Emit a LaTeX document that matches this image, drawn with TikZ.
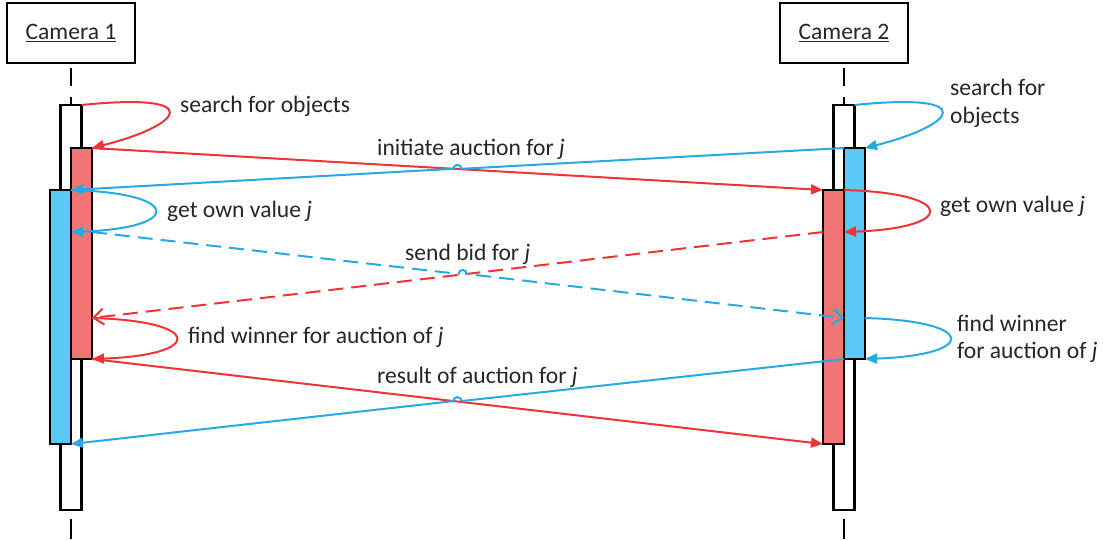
\documentclass[tikz,border=0pt]{standalone}
\usepackage{fontspec}
\setmainfont{Carlito}
\usetikzlibrary{arrows.meta,calc,intersections}

\definecolor{redline}{HTML}{EE3437}
\definecolor{redfill}{HTML}{F17575}
\definecolor{blueline}{HTML}{27AAE1}
\definecolor{bluefill}{HTML}{5BC9F5}
\definecolor{txt}{HTML}{262626}

\tikzset{
  camera/.style={draw=black, line width=2.3pt, minimum width=128pt, minimum height=60pt,
    inner sep=0pt, outer sep=0pt, font=\fontsize{23.6pt}{28pt}\selectfont, text=txt},
  bar/.style={draw=black, line width=2.3pt, minimum width=21pt, inner sep=0pt, outer sep=0pt},
  lifeline/.style={draw=black, line width=2.3pt},
  lbl/.style={font=\fontsize{23.6pt}{28pt}\selectfont, text=txt, inner sep=0pt, align=left},
  redmsg/.style={draw=redline, line width=2pt},
  bluemsg/.style={draw=blueline, line width=2pt},
  filltip/.style={-{Triangle[length=12pt,width=10pt]}},
  opentip/.style={-{Straight Barb[length=10pt,width=16pt,line width=2pt]}},
  dashmsg/.style={dash pattern=on 15pt off 8pt},
}

\begin{document}
\begin{tikzpicture}[x=1pt,y=-1pt]
\useasboundingbox (0,0) rectangle (1108,539);

% participants
\node[camera] (cam1) at (71,33) {\underline{Camera 1}};
\node[camera] (cam2) at (844,33) {\underline{Camera 2}};

% lifelines (dashed stubs above and below the activation bars)
\coordinate (l1top) at (71,68);
\coordinate (l2top) at (844,68);
\coordinate (l1bot) at (71,539);
\coordinate (l2bot) at (844,539);

% white activation bars
\node[bar, fill=white, minimum height=405pt] (L0) at (71,307.5) {};
\node[bar, fill=white, minimum height=405pt] (R0) at (844,307.5) {};

\draw[lifeline, dash pattern=on 18pt off 11pt] (l1top) -- (L0.north);
\draw[lifeline, dash pattern=on 18pt off 11pt] (l2top) -- (R0.north);
\draw[lifeline, dash pattern=on 0pt off 9pt on 40pt] (L0.south) -- (l1bot);
\draw[lifeline, dash pattern=on 0pt off 9pt on 40pt] (R0.south) -- (l2bot);

% coloured activation bars
\node[bar, fill=redfill,  minimum height=211pt] (L1) at (81.5,253.5) {};
\node[bar, fill=bluefill, minimum height=254pt] (L2) at (60.5,317) {};
\node[bar, fill=bluefill, minimum height=211pt] (R1) at (854.5,253.5) {};
\node[bar, fill=redfill,  minimum height=254pt] (R2) at (833.5,317) {};

% message points on the bars
\coordinate (lv)  at (71,232);
\coordinate (lb)  at (92,232);
\coordinate (rv)  at (844,232);
\coordinate (rb)  at (823,232);
\coordinate (lw)  at (92,318);
\coordinate (rw)  at (844,318);
\coordinate (rw2) at (865,318);

% search for objects
\draw[redmsg, filltip] (L0.north east) .. controls +(127,-13) and +(91,-23) .. (L1.north east);
\draw[bluemsg, filltip] (R0.north east) .. controls +(127,-13) and +(91,-23) .. (R1.north east);
\node[lbl, anchor=base west] (s1) at (180,112) {search for objects};
\node[lbl, anchor=base west] (s2a) at (950,95) {search for};
\node[lbl, anchor=base west] (s2b) at (950,123) {objects};

% initiate auction
\path[name path=ia1] (L1.north east) -- (R2.north west);
\path[name path=ia2] (R1.north west) -- (L2.north east);
\path[name intersections={of=ia1 and ia2, by=xa}];
\draw[redmsg, filltip] (L1.north east) -- (R2.north west);
\draw[bluemsg, filltip] (R1.north west) -- ($(xa)!4pt!(R1.north west)$)
  arc[start angle=0, end angle=180, radius=4pt] -- (L2.north east);
\node[lbl, anchor=base west] (ia) at (377,155) {initiate auction for \textit{j}};

% get own value
\draw[bluemsg, filltip] (L2.north east) .. controls +(112,3) and +(112,-4) .. (lv);
\draw[redmsg, filltip] (R2.north east) .. controls +(113,3) and +(113,-4) .. (rv);
\node[lbl, anchor=base west] (gv1) at (167,217) {get own value \textit{j}};
\node[lbl, anchor=base west] (gv2) at (940,212) {get own value \textit{j}};

% send bid
\path[name path=sb1] (rb) -- (lw);
\path[name path=sb2] (lb) -- (rw);
\path[name intersections={of=sb1 and sb2, by=xb}];
\draw[redmsg, dashmsg, opentip] (rb) -- (lw);
\draw[bluemsg, dashmsg, opentip] (lb) -- ($(xb)!4pt!(lb)$)
  arc[start angle=180, end angle=0, radius=4pt] -- (rw);
\node[lbl, anchor=base west] (sb) at (405,260) {send bid for \textit{j}};

% find winner
\draw[redmsg, filltip] (lw) .. controls +(112,3) and +(112,-4) .. (L1.south east);
\draw[bluemsg, filltip] (rw2) .. controls +(113,3) and +(113,-4) .. (R1.south east);
\node[lbl, anchor=base west] (fw1) at (188,343) {find winner for auction of \textit{j}};
\node[lbl, anchor=base west] (fw2a) at (957,331) {find winner};
\node[lbl, anchor=base west] (fw2b) at (957,358) {for auction of \textit{j}};

% result of auction
\path[name path=ra1] (L1.south east) -- (R2.south west);
\path[name path=ra2] (R1.south west) -- (L2.south east);
\path[name intersections={of=ra1 and ra2, by=xr}];
\draw[redmsg, filltip] (L1.south east) -- (R2.south west);
\draw[bluemsg, filltip] (R1.south west) -- ($(xr)!4pt!(R1.south west)$)
  arc[start angle=0, end angle=180, radius=4pt] -- (L2.south east);
\node[lbl, anchor=base west] (ra) at (377,383) {result of auction for \textit{j}};
\end{tikzpicture}
\end{document}
